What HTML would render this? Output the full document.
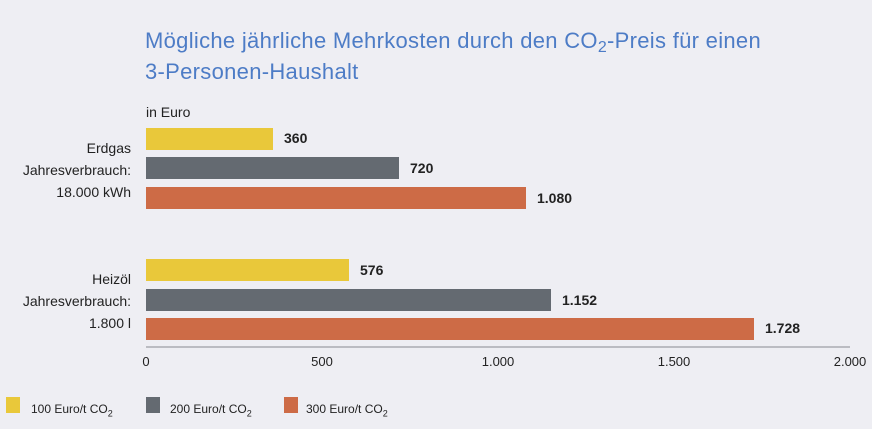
<!DOCTYPE html>
<html><head><meta charset="utf-8"><style>
body{margin:0;width:872px;height:429px;background:#eeeef3;font-family:"Liberation Sans",sans-serif;position:relative;overflow:hidden}
.a{position:absolute;white-space:nowrap}
.t{color:#4d7cc6;font-size:22px;left:145px;line-height:31px;letter-spacing:0.3px}
.b{position:absolute;left:146px;height:22px}
.y{background:#e9c83a}.g{background:#646a71}.o{background:#cd6b46}
.v{font-size:14px;font-weight:bold;color:#222}
.l{font-size:14px;color:#222;text-align:right;right:741px;line-height:22px}
.x{font-size:13px;color:#222;top:354px;transform:translateX(-50%)}
.lg{font-size:12px;color:#222;top:402px}
.s{position:absolute;width:14px;height:16px;top:397px}
</style></head><body>
<div class="a t" style="top:25px">Mögliche jährliche Mehrkosten durch den CO<sub style="font-size:16px;vertical-align:-4px">2</sub>-Preis für einen</div>
<div class="a t" style="top:56px">3-Personen-Haushalt</div>
<div class="a" style="left:146px;top:104px;font-size:14px;color:#222">in Euro</div>
<div class="b y" style="top:128px;width:127px"></div>
<div class="b g" style="top:157px;width:253px"></div>
<div class="b o" style="top:187px;width:380px"></div>
<div class="b y" style="top:259px;width:203px"></div>
<div class="b g" style="top:289px;width:405px"></div>
<div class="b o" style="top:318px;width:608px"></div>
<div class="a v" style="left:284px;top:130px">360</div>
<div class="a v" style="left:410px;top:160px">720</div>
<div class="a v" style="left:537px;top:190px">1.080</div>
<div class="a v" style="left:360px;top:262px">576</div>
<div class="a v" style="left:562px;top:292px">1.152</div>
<div class="a v" style="left:765px;top:320px">1.728</div>
<div class="a l" style="top:137px">Erdgas<br>Jahresverbrauch:<br>18.000 kWh</div>
<div class="a l" style="top:268px">Heizöl<br>Jahresverbrauch:<br>1.800 l</div>
<div class="a" style="left:146px;top:346px;width:704px;height:2px;background:#bbbcc2"></div>
<div class="a x" style="left:146px">0</div>
<div class="a x" style="left:322px">500</div>
<div class="a x" style="left:498px">1.000</div>
<div class="a x" style="left:674px">1.500</div>
<div class="a x" style="left:850px">2.000</div>
<div class="s y" style="left:6px"></div><div class="a lg" style="left:31px">100 Euro/t CO<sub style="font-size:9px">2</sub></div>
<div class="s g" style="left:146px"></div><div class="a lg" style="left:170px">200 Euro/t CO<sub style="font-size:9px">2</sub></div>
<div class="s o" style="left:284px"></div><div class="a lg" style="left:306px">300 Euro/t CO<sub style="font-size:9px">2</sub></div>
</body></html>
